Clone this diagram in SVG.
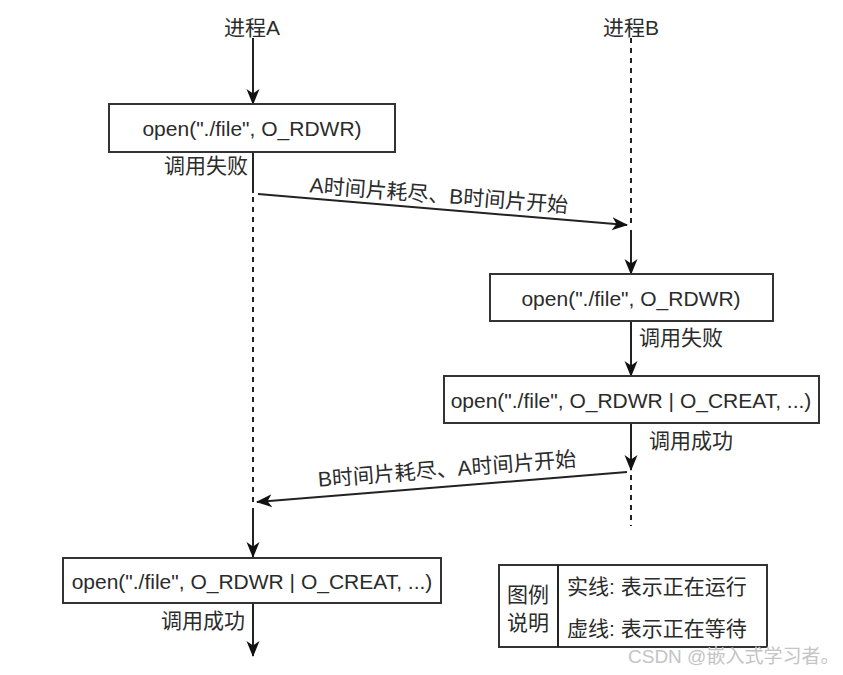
<svg xmlns="http://www.w3.org/2000/svg" width="843" height="675" viewBox="0 0 843 675">
<style>
text{font-family:"Liberation Sans","Noto Sans CJK SC",sans-serif;font-size:21px;fill:#2b2b2b;dominant-baseline:central}
.box{fill:#fff;stroke:#333;stroke-width:2}
.ln{stroke:#222;stroke-width:2;fill:none}
.dash{stroke:#222;stroke-width:2;fill:none;stroke-dasharray:5 5}
.mid{text-anchor:middle}
.end{text-anchor:end}
.wm{font-size:19px;fill:#c4c4c4}
</style>
<defs>
<marker id="ah" markerUnits="userSpaceOnUse" markerWidth="16" markerHeight="16" viewBox="0 0 16 16" refX="15" refY="8" orient="auto">
<path d="M0,1.5 L16,8 L0,14.5 L4.5,8 Z" fill="#111"/>
</marker>
</defs>
<rect width="843" height="675" fill="#fff"/>
<g id="labelA"><text class="mid" x="252" y="27">进程A</text></g>
<g id="labelB"><text class="mid" x="631" y="27">进程B</text></g>
<g id="connectors">
<line class="ln" x1="253" y1="38" x2="253" y2="104" marker-end="url(#ah)"/>
<line class="ln" x1="253" y1="152" x2="253" y2="193"/>
<line class="dash" x1="253" y1="197" x2="253" y2="503"/>
<line class="ln" x1="253" y1="508" x2="253" y2="557" marker-end="url(#ah)"/>
<line class="ln" x1="253" y1="603" x2="253" y2="656" marker-end="url(#ah)"/>
<line class="dash" x1="631" y1="38" x2="631" y2="224"/>
<line class="ln" x1="631" y1="230" x2="631" y2="274" marker-end="url(#ah)"/>
<line class="ln" x1="631" y1="321" x2="631" y2="376" marker-end="url(#ah)"/>
<line class="ln" x1="631" y1="423" x2="631" y2="470" marker-end="url(#ah)"/>
<line class="dash" x1="631" y1="475" x2="631" y2="526"/>
<line class="ln" x1="258" y1="194" x2="627" y2="225" marker-end="url(#ah)"/>
<line class="ln" x1="627" y1="472" x2="257" y2="502" marker-end="url(#ah)"/>
<text class="mid" x="439" y="195" transform="rotate(4.5 439 195)">A时间片耗尽、B时间片开始</text>
<text class="mid" x="447" y="469" transform="rotate(-4.6 447 469)">B时间片耗尽、A时间片开始</text>
<text class="end" x="248" y="165">调用失败</text>
<text x="639" y="337">调用失败</text>
<text x="649" y="440">调用成功</text>
<text class="end" x="245" y="620">调用成功</text>
</g>
<g id="box1"><rect class="box" x="109" y="104" width="286" height="48"/><text class="mid" x="252" y="128">open("./file", O_RDWR)</text></g>
<g id="box2"><rect class="box" x="490" y="274" width="283" height="47"/><text class="mid" x="631" y="298">open("./file", O_RDWR)</text></g>
<g id="box3"><rect class="box" x="444" y="376" width="375" height="47"/><text class="mid" x="631" y="400">open("./file", O_RDWR | O_CREAT, ...)</text></g>
<g id="box4"><rect class="box" x="63" y="558" width="378" height="45"/><text class="mid" x="252" y="581">open("./file", O_RDWR | O_CREAT, ...)</text></g>
<g id="legend">
<rect class="box" x="499" y="565" width="268" height="82"/>
<line class="ln" x1="558" y1="565" x2="558" y2="647"/>
<text class="mid" x="528" y="594">图例</text>
<text class="mid" x="528" y="622">说明</text>
<text x="567" y="586">实线: 表示正在运行</text>
<text x="567" y="628">虚线: 表示正在等待</text>
</g>
<text class="wm" x="628" y="656">CSDN @嵌入式学习者。</text>
</svg>
